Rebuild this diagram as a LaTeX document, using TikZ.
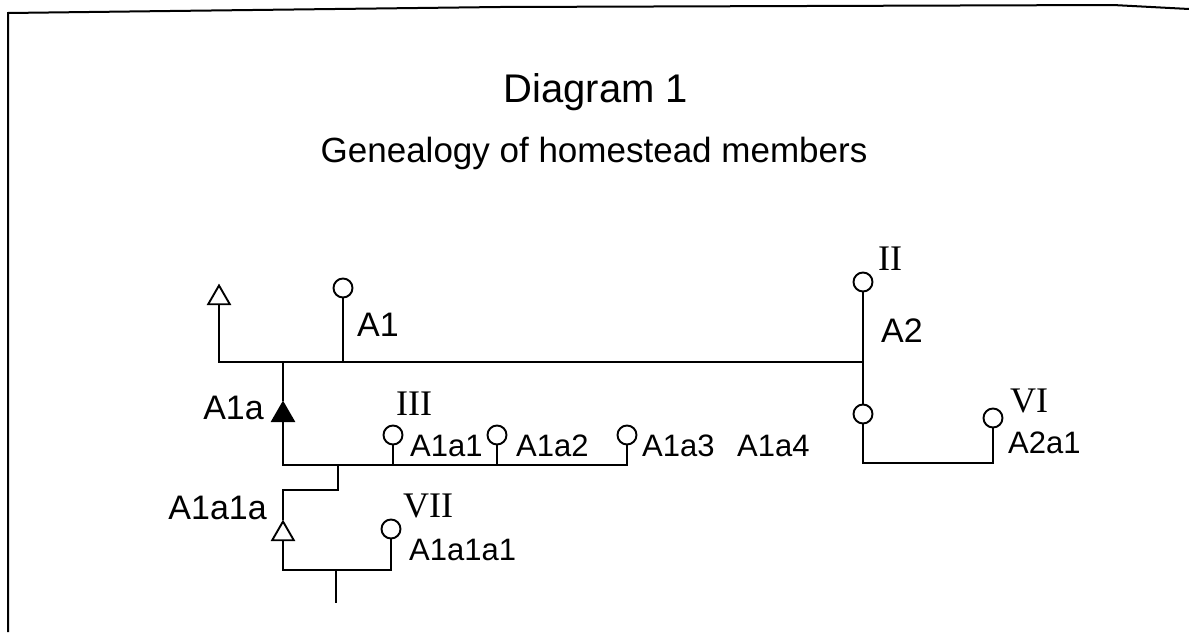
\documentclass[tikz,border=0pt]{standalone}
\usepackage{fontspec}
\setmainfont{Liberation Sans}
\newfontfamily\romfont{Liberation Serif}
\usetikzlibrary{shapes.geometric}
\begin{document}
\begin{tikzpicture}[x=1pt,y=-1pt,
  ln/.style={line width=2.2pt},
  fem/.style={circle,draw,line width=1.9pt,minimum size=19pt,inner sep=0pt},
  male/.style={regular polygon,regular polygon sides=3,draw,line width=1.9pt,minimum size=25pt,inner sep=0pt},
  lab/.style={font=\fontsize{31}{31}\selectfont,anchor=base west,inner sep=0pt},
  biglab/.style={font=\fontsize{34}{34}\selectfont,anchor=base west,inner sep=0pt},
  rom/.style={font=\romfont\fontsize{36}{36}\selectfont,anchor=base west,inner sep=0pt}]
\useasboundingbox (0,0) rectangle (1189,632);
% frame
\draw[line width=2pt] (8,632) -- (8,13) -- (170,11) -- (500,7) -- (1113,5) -- (1189,9);
% titles
\node[anchor=base,inner sep=0pt,font=\fontsize{40}{40}\selectfont] (title) at (596,102) {Diagram 1};
\node[anchor=base,inner sep=0pt,font=\fontsize{35}{35}\selectfont] (sub) at (594,162) {Genealogy of homestead members};
% symbols
\node[male] (t0) at (219,298) {};
\node[fem] (a1) at (343,288) {};
\node[fem] (ii) at (863,282) {};
\node[fem] (a2c) at (863,414) {};
\node[fem] (vi) at (993,418) {};
\node[male,fill=black] (a1a) at (283,415) {};
\node[fem] (c1) at (393,435) {};
\node[fem] (c2) at (497,435) {};
\node[fem] (c3) at (627,435) {};
\node[male] (a1a1a) at (283,534) {};
\node[fem] (vii) at (391,529) {};
% junctions
\coordinate (p1) at (219,362);
\coordinate (p2) at (863,362);
\coordinate (p3) at (863,463);
\coordinate (p4) at (283,465);
\coordinate (p6) at (338,465);
\coordinate (p7) at (338,490);
\coordinate (p8) at (283,570);
\coordinate (p9) at (336,570);
\coordinate (p10) at (336,603);
% lines
\draw[ln] (t0.south) -- (p1) -- (p2);
\draw[ln] (a1.south) -- (a1.south |- p1);
\draw[ln] (ii.south) -- (a2c.north);
\draw[ln] (a2c.south) -- (p3) -| (vi.south);
\draw[ln] (a1a.north) -- (a1a.north |- p1);
\draw[ln] (a1a.south) -- (p4) -| (c3.south);
\draw[ln] (c1.south) -- (c1.south |- p4);
\draw[ln] (c2.south) -- (c2.south |- p4);
\draw[ln] (p6) -- (p7) -| (a1a1a.north);
\draw[ln] (a1a1a.south) -- (p8) -| (vii.south);
\draw[line width=1.3pt] (p9) -- (p10);
% labels
\node[biglab] (la1) at (357,336) {A1};
\node[biglab] (la2) at (881,342) {A2};
\node[biglab,anchor=base east] (la1a) at (264,419) {A1a};
\node[biglab,anchor=base east] (la1a1a) at (267,519) {A1a1a};
\node[rom] (liii) at (396,415) {III};
\node[lab] (la1a1) at (410,456) {A1a1};
\node[lab] (la1a2) at (516,456) {A1a2};
\node[lab] (la1a3) at (642,456) {A1a3};
\node[lab] (la1a4) at (737,456) {A1a4};
\node[rom] (lvii) at (403,517) {VII};
\node[lab] (la1a1a1) at (409,560) {A1a1a1};
\node[rom] (lii) at (878,270) {II};
\node[rom] (lvi) at (1010,412) {VI};
\node[lab] (la2a1) at (1008,453) {A2a1};
\end{tikzpicture}
\end{document}
